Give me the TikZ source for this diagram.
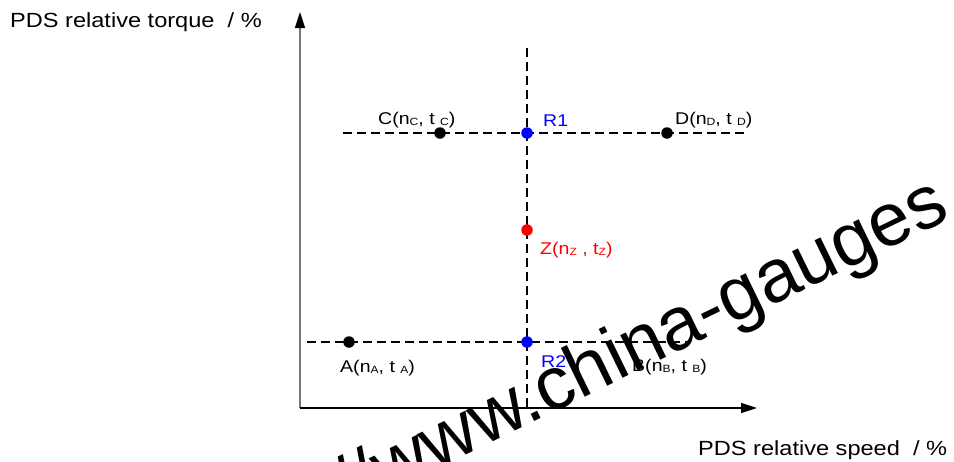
\documentclass[tikz,border=0pt]{standalone}
\usepackage{fontspec}
\setmainfont[FakeStretch=1.15]{Liberation Sans}
\newfontfamily\wmfont{Liberation Sans}
\usetikzlibrary{arrows.meta}
\newcommand\sbs[1]{\raisebox{-1.5pt}{\fontsize{10.5}{10}\selectfont #1}}
\definecolor{axgray}{RGB}{120,120,120}
\begin{document}
\begin{tikzpicture}[x=1pt,y=-1pt,
  axisline/.style={line width=1.5pt, -{Triangle[length=16pt,width=10pt,color=black,fill=black]}},
  dline/.style={line width=1.4pt, dash pattern=on 9pt off 5pt},
  dotmark/.style={circle, fill=#1, inner sep=0pt, minimum size=11.5pt},
  lbl/.style={font=\fontsize{17}{19}\selectfont, inner sep=0pt, anchor=base west},
  axlbl/.style={font=\fontsize{20.5}{23}\selectfont, inner sep=0pt, anchor=base west},
  wmark/.style={font=\wmfont\fontsize{75}{80}\selectfont, inner sep=0pt, anchor=base east, rotate=26}
  ]
\useasboundingbox (0,0) rectangle (954,461);
\clip (0,0) rectangle (954,461);
% axes
\coordinate (O) at (300,408);
\coordinate (Ytop) at (300,12);
\coordinate (Xend) at (757,408);
\draw[axisline, axgray] (O) -- (Ytop);
\draw[axisline, black] (O) -- (Xend);
% dashed lines
\coordinate (Vt) at (527,48);
\coordinate (Vb) at (527,410);
\coordinate (H1l) at (343,133);
\coordinate (H1r) at (748,133);
\coordinate (H2l) at (307,342);
\coordinate (H2r) at (690,342);
\draw[dline] (Vt) -- (Vb);
\draw[dline] (H1l) -- (H1r);
\draw[dline] (H2l) -- (H2r);
% points
\node[dotmark=black] (C) at (440,133) {};
\node[dotmark=blue] (R1) at (527,133) {};
\node[dotmark=black] (D) at (667,133) {};
\node[dotmark=red] (Z) at (527,230) {};
\node[dotmark=blue] (R2) at (527,342) {};
\node[dotmark=black] (A) at (349,342) {};
% labels
\node[lbl] (Cl) at (378,124) {C(n\sbs{C}, t \sbs{C})};
\node[lbl, text=blue] (R1l) at (543,126) {R1};
\node[lbl] (Dl) at (675,124) {D(n\sbs{D}, t \sbs{D})};
\node[lbl, text=red] (Zl) at (540,254) {Z(n\sbs{Z} , t\sbs{Z})};
\node[lbl] (Al) at (340,372) {A(n\sbs{A}, t \sbs{A})};
\node[lbl, text=blue] (R2l) at (541,367) {R2};
\node[lbl] (Bl) at (632,371) {B(n\sbs{B}, t \sbs{B})};
\node[axlbl] (Tl) at (10,27) {PDS relative torque \ / \%};
\node[axlbl] (Sl) at (698,455) {PDS relative speed \ / \%};
% watermark
\node[wmark] (W) at (952,218) {http://www.china-gauges};
\end{tikzpicture}
\end{document}
